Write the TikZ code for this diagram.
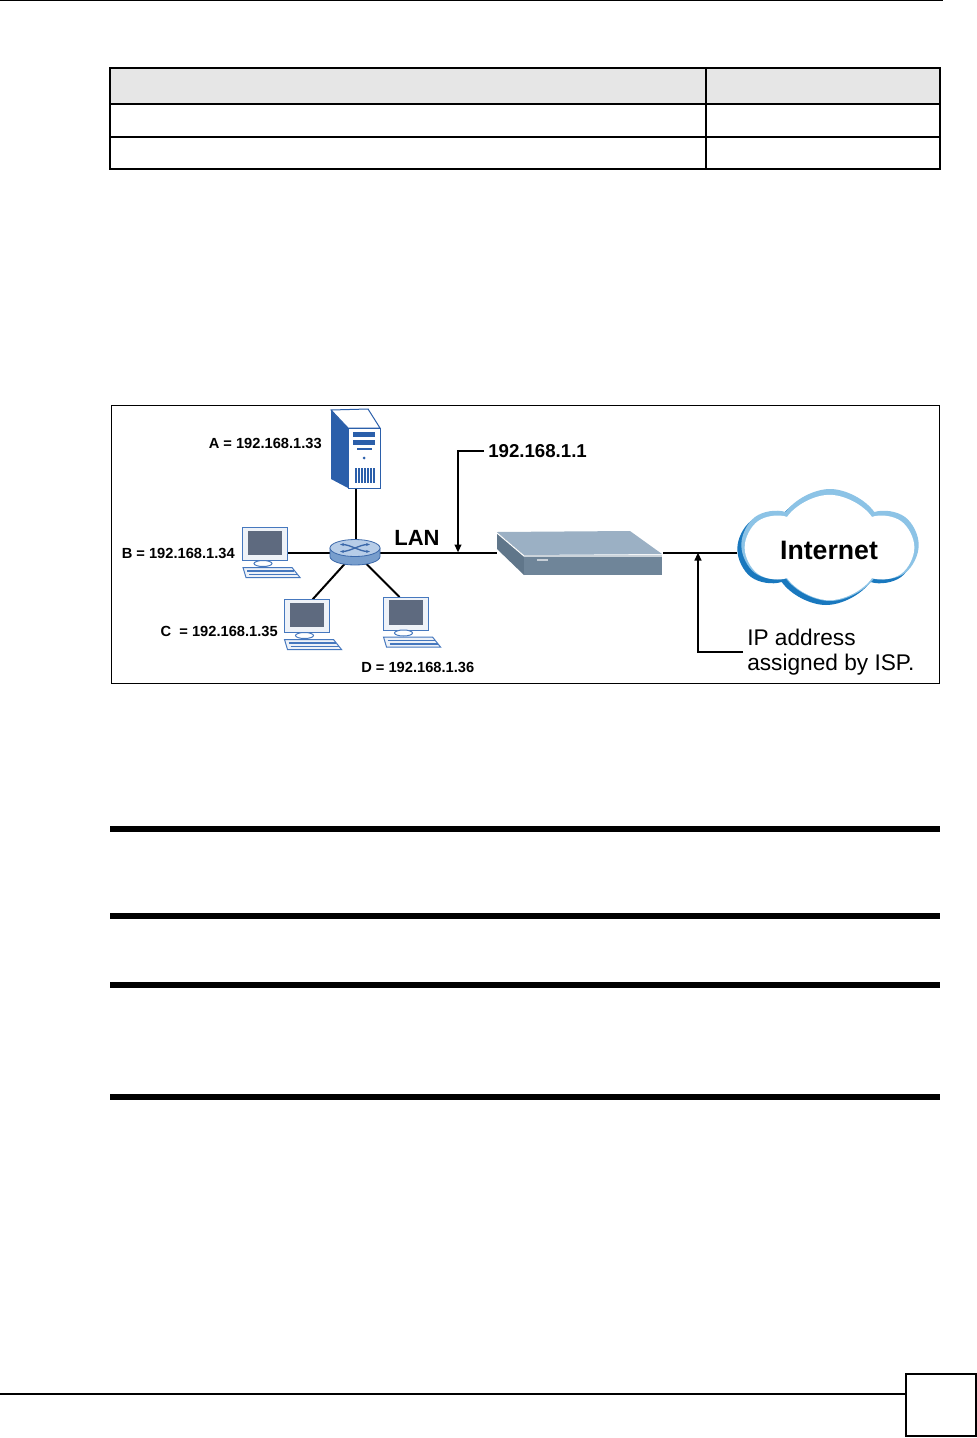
\documentclass[tikz,border=0pt]{standalone}
\usepackage{fontspec}
\setmainfont{Liberation Sans}
\usetikzlibrary{shapes.symbols,arrows.meta}

\definecolor{srvblue}{RGB}{43,95,170}
\definecolor{pcblue}{RGB}{70,120,190}
\definecolor{pcscreen}{RGB}{94,106,127}
\definecolor{pcframe}{RGB}{238,242,248}
\definecolor{swtop}{RGB}{183,205,232}
\definecolor{swside}{RGB}{120,158,205}
\definecolor{swedge}{RGB}{60,105,170}
\definecolor{rtrtop}{RGB}{155,176,196}
\definecolor{rtrfront}{RGB}{111,133,153}
\definecolor{rtrside}{RGB}{96,118,138}
\definecolor{rtrled}{RGB}{200,208,216}
\definecolor{clouddark}{RGB}{25,120,190}
\definecolor{cloudlight}{RGB}{140,195,230}
\definecolor{hdrgray}{RGB}{230,230,230}

\begin{document}
\begin{tikzpicture}[x=0.75pt,y=0.75pt,yscale=-1,xscale=1,
  devbox/.style={inner sep=0pt, outer sep=0pt},
  addr/.style={font=\fontsize{11}{13}\selectfont\bfseries, inner sep=0.75pt},
  wire/.style={line width=1.5pt},
  callout/.style={line width=1.4pt, -{Triangle[length=6pt,width=5pt]}},
  puff/.style={cloud, cloud puffs=6, cloud puff arc=110, cloud ignores aspect, inner sep=0pt, minimum width=130pt, minimum height=84pt}]
                  %set diagram left start at 0, and has height of 1438
                  \path[use as bounding box] (0,0) rectangle (977,1438);
                  \fill[white] (0,0) rectangle (977,1438);

                  %Straight Lines: page header
                  \draw[line width=0.75pt] (0,0.5) -- (943,0.5);

                  %Shape: Table
                  \fill[hdrgray] (110,68) rectangle (940,104);
                  \draw[line width=0.9pt] (110,68) rectangle (940,169);
                  \draw[line width=0.9pt] (110,104) -- (940,104);
                  \draw[line width=0.9pt] (110,137) -- (940,137);
                  \draw[line width=0.9pt] (706,68) -- (706,169);

                  %Shape: figure frame
                  \draw[line width=0.75pt] (111,405) rectangle (939,683);

                  % Device nodes
                  \node[devbox, minimum width=37.5pt, minimum height=59.25pt] (server) at (356,448.5) {};
                  \node[devbox, minimum width=37.5pt, minimum height=18.75pt] (sw) at (355,552.5) {};
                  \node[devbox, minimum width=124.5pt, minimum height=33.75pt] (rtr) at (580,553.5) {};
                  \node[devbox, minimum width=33.75pt, minimum height=24.75pt] (pcB) at (265,544) {};
                  \node[devbox, minimum width=33.75pt, minimum height=24.75pt] (pcC) at (306.5,616) {};
                  \node[devbox, minimum width=33.75pt, minimum height=24.75pt] (pcD) at (405.5,613.5) {};

                  %Straight Lines: LAN wires
                  \draw[wire] (server.south) -- (server.south |- sw.center);
                  \draw[wire] (sw.center) -- (sw.center -| pcB.east);
                  \draw[wire] (sw.center) -- (pcC.70);
                  \draw[wire] (sw.center) -- (pcD.110);
                  \draw[wire] (sw.center) -- (sw.center -| rtr.west);

                  %Shape: server tower
                  \fill[srvblue] (331,410) -- (348,428) -- (348,488) -- (331,479) -- cycle;
                  \draw[srvblue, fill=white, line width=0.75pt] (331,410) -- (368,409) -- (380,428) -- (348,428) -- cycle;
                  \draw[srvblue, fill=white, line width=0.75pt] (348,428) rectangle (380,488);
                  \fill[srvblue] (353,432) rectangle (375,437);
                  \fill[srvblue] (353,440) rectangle (375,445);
                  \fill[srvblue] (357,448) rectangle (372,450);
                  \fill[srvblue] (364,458) circle [radius=1.5];
                  \foreach \gx in {356,359,...,374} \draw[srvblue, line width=1pt] (\gx,468) -- (\gx,483);

                  %Shape: switch
                  \draw[swedge, fill=swside, line width=0.6pt] (330,548) -- (330,556.5) arc[start angle=180, end angle=0, x radius=25, y radius=8.5] -- (380,548) -- cycle;
                  \draw[swedge, fill=swtop, line width=0.6pt] (355,548) ellipse [x radius=25, y radius=8.5];
                  \draw[swedge, line width=1pt, {Stealth[length=3pt]}-{Stealth[length=3pt]}] (340,544.5) .. controls (350,544.5) and (360,551.5) .. (370,551.5);
                  \draw[swedge, line width=1pt, {Stealth[length=3pt]}-{Stealth[length=3pt]}] (340,551.5) .. controls (350,551.5) and (360,544.5) .. (370,544.5);

                  %Shape: workstations
                  \foreach \px/\py in {265/544, 306.5/616, 405.5/613.5}{
                    \begin{scope}[shift={(\px,\py)}]
                      \draw[pcblue, fill=pcframe, line width=0.75pt] (-22.5,-16.5) rectangle (22.5,16.5);
                      \fill[pcscreen] (-17,-13.5) rectangle (17,11);
                      \draw[pcblue, fill=white, line width=0.75pt] (-2,19.5) ellipse [x radius=9, y radius=3];
                      \draw[pcblue, fill=pcframe, line width=0.75pt] (-22,23.5) -- (27,23.5) -- (35,33.5) -- (-19,33.5) -- cycle;
                      \draw[pcblue, line width=0.9pt] (-18,27) -- (29,27) (-16,30.5) -- (32,30.5);
                    \end{scope}
                  }

                  %Shape: router
                  \fill[rtrside] (497,532) -- (524,555) -- (524,575) -- (497,549) -- cycle;
                  \fill[rtrtop] (497,532) -- (630,531) -- (662,554) -- (524,555) -- cycle;
                  \fill[rtrfront] (524,555) rectangle (662,575);
                  \draw[white, line width=0.8pt] (497,533) -- (524,556) -- (662,556);
                  \fill[rtrled] (537,558.5) rectangle (548,561);

                  %Shape: Internet cloud
                  \node[puff, fill=clouddark] (cloud) at (826,549) {};
                  \node[puff, fill=cloudlight] at (830,545) {};
                  \node[puff, fill=white, minimum width=124pt, minimum height=79pt] at (829.5,547.5) {};
                  \node[font=\fontsize{20}{24}\selectfont\bfseries] (inet) at (829,550) {Internet};

                  %Straight Lines: WAN wire
                  \draw[wire] (sw.center -| rtr.east) -- (sw.center -| cloud.west);

                  % Text Node
                  \node[addr, anchor=east] (lblA) at (323,443) {A = 192.168.1.33};
                  % Text Node
                  \node[addr, anchor=east] (lblB) at (236,553) {B = 192.168.1.34};
                  % Text Node
                  \node[addr, anchor=east] (lblC) at (279,631) {C\ \ = 192.168.1.35};
                  % Text Node
                  \node[addr, anchor=west] (lblD) at (360,667) {D = 192.168.1.36};
                  % Text Node
                  \node[font=\fontsize{16.5}{19}\selectfont\bfseries] (lan) at (417,538) {LAN};

                  %Callout: LAN address
                  \node[font=\fontsize{14}{16}\selectfont\bfseries, anchor=west, inner sep=3pt] (gwlbl) at (484,451) {192.168.1.1};
                  \coordinate (lanpt) at (458,552.5);
                  \draw[callout] (gwlbl.west) -| (lanpt);

                  %Callout: WAN address
                  \node[font=\fontsize{17}{18.75}\selectfont, anchor=west, align=left, inner sep=3pt] (isplbl) at (743,652) {IP address\\assigned by ISP.};
                  \coordinate (wanpt) at (698,552.5);
                  \draw[callout] (isplbl.west) -| (wanpt);

                  %Shape: rules
                  \foreach \ry in {829,916,985,1097} \fill (110,\ry-3) rectangle (940,\ry+3);

                  %Straight Lines: footer
                  \draw[line width=1pt] (0,1394) -- (906,1394);
                  \draw[line width=1.5pt] (906,1374) rectangle (976,1436);

              \end{tikzpicture}
\end{document}
